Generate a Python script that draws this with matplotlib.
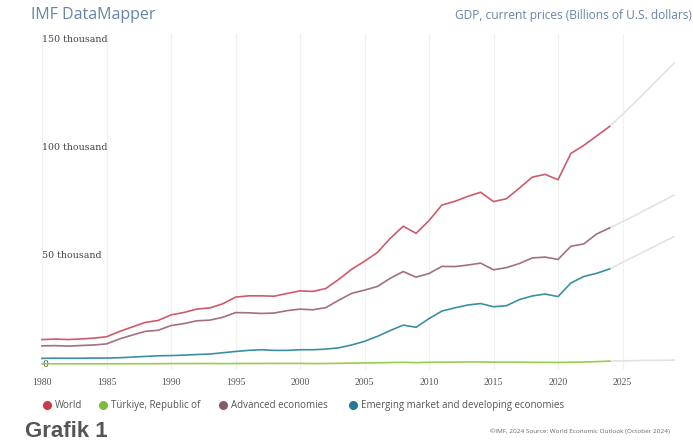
import matplotlib
matplotlib.use("Agg")
from matplotlib import pyplot as plt
from matplotlib.lines import Line2D
import numpy as np

# GDP, current prices, billions of U.S. dollars
years = list(range(1980, 2030))
world = [11300, 11550, 11330, 11580, 11980, 12600, 15050, 17150, 19250, 20150,
         22750, 23850, 25450, 25950, 27850, 30950, 31550, 31550, 31400, 32650,
         33850, 33600, 34950, 39150, 43850, 47550, 51650, 58200, 63800, 60500,
         66400, 73600, 75300, 77600, 79500, 75200, 76500, 81400, 86500, 87800,
         85300, 97500, 101200, 105600, 110000, 115600, 121300, 127300, 133300, 139300]
turkiye = [95, 98, 89, 85, 81, 91, 100, 114, 120, 145,
           207, 210, 219, 248, 176, 233, 249, 256, 274, 256,
           274, 202, 240, 315, 409, 506, 553, 681, 770, 649,
           777, 838, 880, 958, 939, 867, 869, 859, 779, 761,
           720, 819, 907, 1108, 1344, 1455, 1560, 1650, 1740, 1830]
advanced = [8400, 8500, 8300, 8550, 8800, 9300, 11600, 13400, 15100, 15600,
            17800, 18700, 20000, 20300, 21600, 23800, 23700, 23400, 23600, 24700,
            25400, 25100, 26100, 29500, 32700, 34200, 35900, 39700, 42800, 40200,
            41900, 45200, 45100, 45800, 46700, 43600, 44600, 46500, 49100, 49500,
            48400, 54500, 55600, 60200, 63000, 65900, 68900, 72000, 75100, 78200]
emerging = [2600, 2700, 2650, 2650, 2750, 2750, 2900, 3200, 3500, 3800,
            3900, 4100, 4400, 4600, 5200, 5800, 6300, 6600, 6300, 6300,
            6600, 6600, 6900, 7500, 8800, 10500, 12800, 15500, 18000, 17000,
            21000, 24500, 26000, 27300, 28000, 26500, 27000, 29800, 31500, 32400,
            31200, 37500, 40500, 42000, 44000, 47000, 50000, 53000, 56000, 59000]

names = ["World", "Türkiye, Republic of", "Advanced economies",
         "Emerging market and developing economies"]
line_colors = ["#cf5a6c", "#9acd4e", "#a46f7e", "#3b8fa2"]
dot_colors = ["#c83a48", "#7dbb3c", "#8a5a6a", "#1f7c93"]
proj_color = "#e2e2e2"
last_actual = 2024

xticks = list(range(1980, 2030, 5))
yticks = [0, 50000, 100000, 150000]
ylabels = ["0", "50 thousand", "100 thousand", "150 thousand"]

W, H = 693, 440
fig = plt.figure(figsize=(W / 100, H / 100), dpi=100)
fig.patch.set_facecolor("white")

# axes placed in pixel units: left 38, right 686, top 34, bottom 370
ax = fig.add_axes([38 / W, 1 - 370 / H, (686 - 38) / W, (370 - 34) / H])
px_per_year = 12.9
px_per_k = 2.16
ax.set_xlim(1980 - 4 / px_per_year, 1980 + (686 - 38 - 4) / px_per_year)
ax.set_ylim(-(370 - 364) / px_per_k * 1000, (364 - 34) / px_per_k * 1000)

for xv in xticks:
    ax.axvline(xv, color="#f1f1f1", lw=0.9, zorder=0)

yrs = np.array(years)
cut = years.index(last_actual)
series = [world, turkiye, advanced, emerging]
for vals, col in zip(series, line_colors):
    v = np.array(vals)
    ax.plot(yrs[:cut + 1], v[:cut + 1], color=col, lw=1.2, zorder=3)
    ax.plot(yrs[cut:], v[cut:], color=proj_color, lw=1.2, zorder=2)

for s in ax.spines.values():
    s.set_visible(False)

ax.set_xticks(xticks)
ax.set_xticklabels([str(x) for x in xticks], family="Liberation Serif",
                   fontsize=7, color="#555555")
ax.tick_params(axis="x", length=0, pad=6)
ax.set_yticks(yticks)
ax.set_yticklabels(ylabels, family="DejaVu Serif", fontsize=6.8, color="#444444")
ax.tick_params(axis="y", length=0, pad=-3)
for lab in ax.get_yticklabels():
    lab.set_ha("left")
    lab.set_va("center")

# header
fig.text(31 / W, 1 - 15 / H, "IMF DataMapper", family="Open Sans", fontsize=11.5,
         color="#6784a8", va="center", ha="left")
fig.text(455 / W, 1 - 15 / H, "GDP, current prices (Billions of U.S. dollars)",
         family="Open Sans", fontsize=8.6, color="#6784a8", va="center", ha="left")

# legend, laid out by hand to match the spacing of the original
legend_x = [47, 103, 223, 353]
for lx, name, col in zip(legend_x, names, dot_colors):
    fig.add_artist(Line2D([lx / W], [1 - 405 / H], marker="o", ms=5.5, color=col,
                          mec=col, transform=fig.transFigure))
    fig.text((lx + 8) / W, 1 - 405 / H, name, family="Open Sans", fontsize=7.0,
             color="#555555", va="center", ha="left")

fig.text(25 / W, 1 - 431 / H, "Grafik 1", family="Liberation Sans", fontsize=16,
         fontweight="bold", color="#555555", va="center", ha="left")
fig.text(490 / W, 1 - 431 / H, "©IMF, 2024 Source: World Economic Outlook (October 2024)",
         family="Open Sans", fontsize=4.6, color="#666666", va="center", ha="left")

fig.savefig("out.png", dpi=100)
